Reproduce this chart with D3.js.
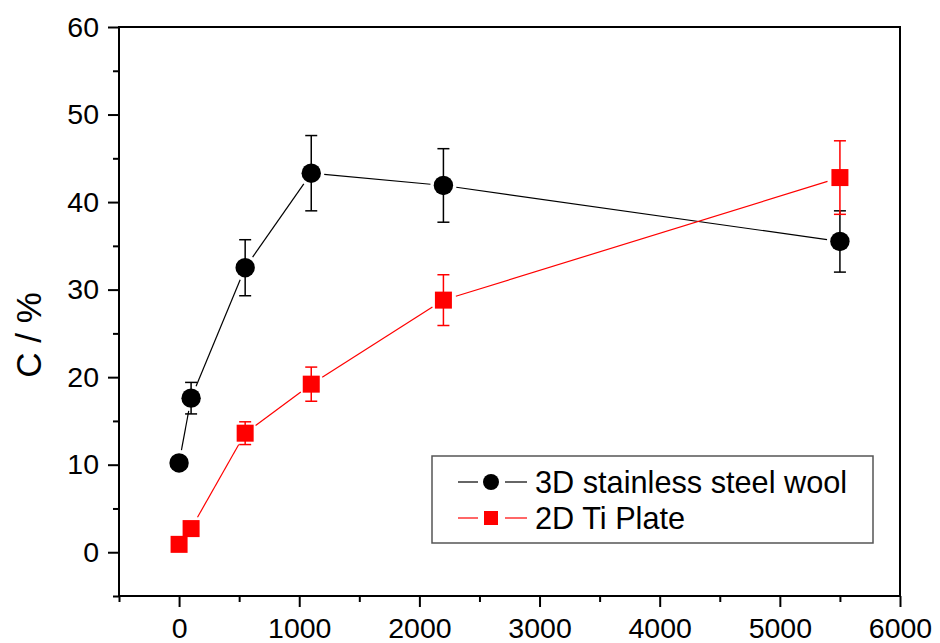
<!DOCTYPE html>
<html>
<head>
<meta charset="utf-8">
<script src="https://cdn.jsdelivr.net/npm/d3@7"></script>
<style>
  body { margin: 0; background: #fff; }
  text { font-family: "Liberation Sans", Arial, sans-serif; }
</style>
</head>
<body>
<svg id="chart" width="940" height="643"></svg>
<script>
  'use strict';

  // data
  var xValues = [0, 100, 550, 1100, 2200, 5500];
  var steelWool = [10.2, 17.6, 32.5, 43.3, 41.9, 35.5];
  var steelWoolErr = [0.7, 1.8, 3.2, 4.3, 4.2, 3.5];
  var tiPlate = [0.9, 2.7, 13.6, 19.2, 28.8, 42.8];
  var tiPlateErr = [0.3, 0.4, 1.3, 1.95, 2.9, 4.2];
  var xTicks = [0, 1000, 2000, 3000, 4000, 5000, 6000];
  var yTicks = [0, 10, 20, 30, 40, 50, 60];
  var seriesNames = ['3D stainless steel wool', '2D Ti Plate'];

  (function () {
  var svg = d3.select('#chart');
  var pLeft = 119, pRight = 900, pTop = 27, pBottom = 596;

  var x = d3.scaleLinear().domain([-500, 6000]).range([pLeft, pRight]);
  var y = d3.scaleLinear().domain([-5, 60]).range([pBottom, pTop]);

  // axes ////////////////////////////////////////////////////////////////
  var xAxis = d3.axisBottom(x).tickValues(xTicks).tickFormat(d3.format('d'))
    .tickSize(11).tickSizeOuter(0).tickPadding(11);
  var xMinor = d3.axisBottom(x).tickValues(d3.range(-500, 6001, 500).filter(function (v) { return v % 1000 !== 0; }))
    .tickSize(6).tickSizeOuter(0).tickFormat('');
  var yAxis = d3.axisLeft(y).tickValues(yTicks).tickSize(11).tickSizeOuter(0).tickPadding(9);
  var yMinor = d3.axisLeft(y).tickValues([-5, 5, 15, 25, 35, 45, 55]).tickSize(6).tickSizeOuter(0).tickFormat('');

  function styleAxis(g) {
    g.select('.domain').remove();
    g.selectAll('line').attr('stroke', '#000').attr('stroke-width', 2);
    g.selectAll('text').attr('font-size', 28.5).attr('fill', '#000');
  }

  svg.append('g').attr('transform', 'translate(0,' + pBottom + ')').call(xAxis).call(styleAxis);
  svg.append('g').attr('transform', 'translate(0,' + pBottom + ')').call(xMinor).call(styleAxis);
  svg.append('g').attr('transform', 'translate(' + pLeft + ',0)').call(yAxis).call(styleAxis);
  svg.append('g').attr('transform', 'translate(' + pLeft + ',0)').call(yMinor).call(styleAxis);

  // frame
  svg.append('rect')
    .attr('x', pLeft).attr('y', pTop)
    .attr('width', pRight - pLeft).attr('height', pBottom - pTop)
    .attr('fill', 'none').attr('stroke', '#000').attr('stroke-width', 2);

  svg.append('text')
    .attr('transform', 'translate(41,335) rotate(-90)')
    .attr('text-anchor', 'middle')
    .attr('font-size', 35)
    .text('C / %');

  // series //////////////////////////////////////////////////////////////
  function drawSeries(vals, errs, color, shape) {
    var g = svg.append('g');
    var pts = xValues.map(function (xv, i) { return [x(xv), y(vals[i])]; });
    var gap = 13;

    // connecting segments, stopping short of the markers
    for (var i = 0; i < pts.length - 1; i++) {
      var a = pts[i], b = pts[i + 1];
      var dx = b[0] - a[0], dy = b[1] - a[1];
      var len = Math.sqrt(dx * dx + dy * dy);
      if (len <= 2 * gap) continue;
      var ux = dx / len, uy = dy / len;
      g.append('line')
        .attr('x1', a[0] + ux * gap).attr('y1', a[1] + uy * gap)
        .attr('x2', b[0] - ux * gap).attr('y2', b[1] - uy * gap)
        .attr('stroke', color).attr('stroke-width', 1.2);
    }

    // error bars
    xValues.forEach(function (xv, i) {
      var cx = x(xv), y1 = y(vals[i] + errs[i]), y2 = y(vals[i] - errs[i]);
      g.append('line').attr('x1', cx).attr('x2', cx).attr('y1', y1).attr('y2', y2)
        .attr('stroke', color).attr('stroke-width', 1.5);
      [y1, y2].forEach(function (yy) {
        g.append('line').attr('x1', cx - 6).attr('x2', cx + 6).attr('y1', yy).attr('y2', yy)
          .attr('stroke', color).attr('stroke-width', 1.5);
      });
    });

    // markers
    pts.forEach(function (p) {
      drawMarker(g, p[0], p[1], color, shape);
    });
  }

  function drawMarker(g, cx, cy, color, shape) {
    if (shape === 'circle') {
      g.append('circle').attr('cx', cx).attr('cy', cy).attr('r', 9.7).attr('fill', color);
    } else {
      g.append('rect').attr('x', cx - 8.5).attr('y', cy - 8.5).attr('width', 17).attr('height', 17).attr('fill', color);
    }
  }

  drawSeries(steelWool, steelWoolErr, '#000', 'circle');
  drawSeries(tiPlate, tiPlateErr, '#ff0000', 'square');

  // legend //////////////////////////////////////////////////////////////
  var legend = svg.append('g');
  legend.append('rect')
    .attr('x', 432).attr('y', 456).attr('width', 441).attr('height', 87)
    .attr('fill', '#fff').attr('stroke', '#555').attr('stroke-width', 1.5);

  var legendRows = [
    { name: seriesNames[0], color: '#000', shape: 'circle', y: 482 },
    { name: seriesNames[1], color: '#ff0000', shape: 'square', y: 518 }
  ];
  legendRows.forEach(function (r) {
    legend.append('line').attr('x1', 458).attr('x2', 478).attr('y1', r.y).attr('y2', r.y)
      .attr('stroke', r.color).attr('stroke-width', 1.2);
    legend.append('line').attr('x1', 505).attr('x2', 527).attr('y1', r.y).attr('y2', r.y)
      .attr('stroke', r.color).attr('stroke-width', 1.2);
    if (r.shape === 'circle') {
      legend.append('circle').attr('cx', 491).attr('cy', r.y).attr('r', 8).attr('fill', r.color);
    } else {
      legend.append('rect').attr('x', 484).attr('y', r.y - 7).attr('width', 14).attr('height', 14).attr('fill', r.color);
    }
    legend.append('text').attr('x', 535).attr('y', r.y).attr('dy', '0.35em')
      .attr('font-size', 30.7).attr('fill', '#000').text(r.name);
  });
  })();
</script>
</body>
</html>
